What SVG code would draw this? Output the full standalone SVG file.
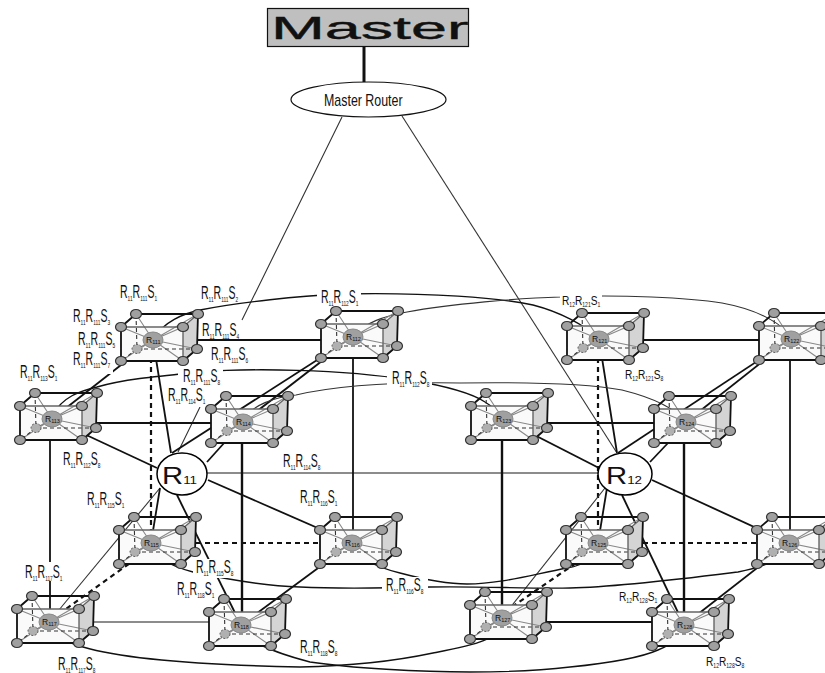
<svg xmlns="http://www.w3.org/2000/svg" width="825" height="673" viewBox="0 0 825 673">
<style>
text{font-family:"Liberation Sans",Arial,sans-serif;fill:#111}
.l{font-size:17.500px}.ls{font-size:13px}
.u{font-size:8px}.us{font-size:6.500px}
.bg{fill:#fff}
#conn path,#conn line{fill:none;stroke:#111;stroke-width:1.800}
#conn .k{stroke-width:2.400}
#conn .th{stroke:#333;stroke-width:1.100}
#conn .gr{stroke:#666;stroke-width:1}
#conn .md{stroke:#666;stroke-width:1.500}
#conn .d{stroke-dasharray:5 4;stroke-width:2.200}
#conn .a{stroke-width:1.400}
.e{fill:none;stroke:#111;stroke-width:1.800}
.eg{fill:none;stroke:#666;stroke-width:1.400}
.r{stroke:#888;stroke-width:1.100;fill:none}
.ds{fill:none;stroke:#333;stroke-width:1.100;stroke-dasharray:4 3}
.c{fill:#a0a0a0;stroke:#333;stroke-width:1.200}
.cd{fill:#b0b0b0;stroke:#555;stroke-width:1;stroke-dasharray:2 1.500}
.ctr{fill:#a0a0a0;stroke:#888;stroke-width:1}
.n{font-size:8.500px}.ns{font-size:5.500px}
</style>
<defs>
<g id="cube">
<path d="M-32,-13L30,-13L30,21L-32,21Z" fill="#fafafa"/>
<path d="M30,-13L45,-26L44,9L30,21Z" fill="#d4d4d4"/>
<path class="r" d="M0,0L-17,-26M0,0L45,-26M0,0L-32,-13M0,0L30,-13M0,0L-32,21M0,0L30,21M0,0L44,9M0,0L-16,9"/>
<path class="ds" d="M-17,-26L-16,9M-16,9L44,9M-16,9L-32,21"/>
<path class="eg" d="M-32,-13L30,-13M30,-13L30,21M30,-13L45,-26"/>
<path class="e" d="M-17,-26L45,-26L44,9L30,21L-32,21L-32,-13Z"/>
<ellipse class="cd" cx="-16" cy="9" rx="5" ry="4.500"/>
<ellipse class="c" cx="-17" cy="-26" rx="5.500" ry="4.500"/>
<ellipse class="c" cx="45" cy="-26" rx="5.500" ry="4.500"/>
<ellipse class="c" cx="-32" cy="-13" rx="5.500" ry="4.500"/>
<ellipse class="c" cx="30" cy="-13" rx="5.500" ry="4.500"/>
<ellipse class="c" cx="-32" cy="21" rx="5.500" ry="4.500"/>
<ellipse class="c" cx="30" cy="21" rx="5.500" ry="4.500"/>
<ellipse class="c" cx="44" cy="9" rx="5.500" ry="4.500"/>
<ellipse class="ctr" cx="0" cy="0" rx="10" ry="8"/>
</g>
</defs>

<g id="conn">
<line class="k" x1="364" y1="46" x2="364" y2="82" style="stroke-width:3"/>
<path class="th" d="M342,117L242,320M200,407L178,452"/>
<path class="th" d="M402,116L617,453"/>
<line x1="171" y1="453" x2="153" y2="340"/>
<line x1="172" y1="453" x2="353" y2="337"/>
<line x1="207" y1="462" x2="243" y2="422"/>
<line x1="243" y1="422" x2="353" y2="337"/>
<line x1="52" y1="419" x2="153" y2="340"/>
<line x1="157" y1="468" x2="52" y2="419"/>
<line x1="153" y1="340" x2="353" y2="340"/>
<line x1="52" y1="423" x2="243" y2="423"/>
<line class="d" x1="151" y1="543" x2="352" y2="543"/>
<line class="md" x1="49" y1="622" x2="241" y2="622"/>
<line class="md" x1="182" y1="473" x2="625" y2="473"/>
<line x1="50" y1="419" x2="50" y2="622"/>
<line class="d" x1="151" y1="340" x2="151" y2="543"/>
<line class="k" x1="242" y1="422" x2="242" y2="625"/>
<line x1="353" y1="340" x2="353" y2="543"/>
<line class="d" x1="151" y1="548" x2="52" y2="619"/>
<line class="th" x1="160" y1="488" x2="49" y2="622"/>
<line x1="160" y1="488" x2="151" y2="543"/>
<line x1="177" y1="495" x2="241" y2="625"/>
<line x1="208" y1="480" x2="352" y2="543"/>
<line x1="241" y1="625" x2="352" y2="543"/>
<line x1="617" y1="453" x2="599" y2="339"/>
<line x1="618" y1="453" x2="791" y2="339"/>
<line x1="650" y1="462" x2="686" y2="424"/>
<line x1="686" y1="422" x2="791" y2="339"/>
<line x1="503" y1="419" x2="599" y2="468"/>
<line x1="599" y1="340" x2="791" y2="340"/>
<line x1="503" y1="423" x2="686" y2="423"/>
<line class="d" x1="598" y1="543" x2="789" y2="543"/>
<line x1="502" y1="622" x2="684" y2="622"/>
<line class="d" x1="598" y1="340" x2="598" y2="543"/>
<line class="k" x1="684" y1="422" x2="684" y2="625"/>
<line x1="790" y1="339" x2="790" y2="543"/>
<line class="k" x1="502" y1="419" x2="502" y2="618"/>
<line class="d" x1="598" y1="548" x2="503" y2="613"/>
<line class="th" x1="605" y1="488" x2="502" y2="618"/>
<line x1="607" y1="488" x2="598" y2="543"/>
<line x1="622" y1="495" x2="684" y2="625"/>
<line x1="652" y1="480" x2="789" y2="543"/>
<line x1="684" y1="625" x2="789" y2="543"/>
<path class="a" d="M153,340C162,322 185,313 200,310C240,302 300,296 340,294C430,292 500,298 533,305C560,312 585,325 599,339"/>
<path class="th" d="M353,337C365,322 385,316 407,312C450,304 520,298 560,297C620,294 690,298 722,303C760,310 785,325 791,339"/>
<path class="a" d="M53,415C62,397 80,391 97,387C125,379 160,376 200,372C250,368 340,369 410,380C440,385 470,392 485,402C495,408 500,415 503,419"/>
<path class="th" d="M243,420C252,405 275,397 296,395C340,385 400,382 460,383C530,382 590,384 622,390C650,397 675,408 686,422"/>
<path class="a" d="M352,543C352,555 375,567 400,573C430,581 450,584 467,584C500,584 530,575 567,568C580,566 595,560 598,543"/>
<path class="a" d="M151,543C150,555 170,566 193,572C230,580 270,586 300,587C340,589 390,588 430,587C480,586 530,589 570,588C620,587 690,578 738,572C760,568 785,560 789,543"/>
<path class="a" d="M49,622C50,635 65,642 83,647C120,658 200,665 300,667C350,666 400,660 433,653C470,646 505,640 502,618"/>
<path class="a" d="M241,625C242,640 275,653 310,662C350,668 420,672 470,672C510,672 545,670 570,667C610,663 640,658 658,650C675,643 684,635 684,625"/>
</g>

<g id="labels">
<g id="l1"><rect class="bg" x="119" y="284" width="40" height="17"/><text class="l" transform="matrix(.6 0 0 1 120 298)">R<tspan class="u" dy="3">11</tspan><tspan dy="-3">R</tspan><tspan class="u" dy="3">111</tspan><tspan dy="-3">S</tspan><tspan class="u" dy="3">1</tspan></text></g>
<g id="l2"><rect class="bg" x="200" y="285" width="40" height="17"/><text class="l" transform="matrix(.6 0 0 1 201 299)">R<tspan class="u" dy="3">11</tspan><tspan dy="-3">R</tspan><tspan class="u" dy="3">111</tspan><tspan dy="-3">S</tspan><tspan class="u" dy="3">2</tspan></text></g>
<g id="l3"><rect class="bg" x="72" y="308" width="40" height="17"/><text class="l" transform="matrix(.6 0 0 1 73 322)">R<tspan class="u" dy="3">11</tspan><tspan dy="-3">R</tspan><tspan class="u" dy="3">111</tspan><tspan dy="-3">S</tspan><tspan class="u" dy="3">3</tspan></text></g>
<g id="l5"><rect class="bg" x="77" y="331" width="40" height="17"/><text class="l" transform="matrix(.6 0 0 1 78 345)">R<tspan class="u" dy="3">11</tspan><tspan dy="-3">R</tspan><tspan class="u" dy="3">111</tspan><tspan dy="-3">S</tspan><tspan class="u" dy="3">5</tspan></text></g>
<g id="l7"><rect class="bg" x="72" y="351" width="41" height="23"/><text class="l" transform="matrix(.6 0 0 1 73 365)">R<tspan class="u" dy="3">11</tspan><tspan dy="-3">R</tspan><tspan class="u" dy="3">111</tspan><tspan dy="-3">S</tspan><tspan class="u" dy="3">7</tspan></text></g>
<g id="l4"><rect class="bg" x="201" y="322" width="41" height="16"/><text class="l" transform="matrix(.6 0 0 1 202 336)">R<tspan class="u" dy="3">11</tspan><tspan dy="-3">R</tspan><tspan class="u" dy="3">111</tspan><tspan dy="-3">S</tspan><tspan class="u" dy="3">4</tspan></text></g>
<g id="l6"><rect class="bg" x="210" y="346" width="41" height="17"/><text class="l" transform="matrix(.6 0 0 1 211 360)">R<tspan class="u" dy="3">11</tspan><tspan dy="-3">R</tspan><tspan class="u" dy="3">111</tspan><tspan dy="-3">S</tspan><tspan class="u" dy="3">6</tspan></text></g>
<g id="l8"><rect class="bg" x="19" y="364" width="40" height="17"/><text class="l" transform="matrix(.6 0 0 1 20 378)">R<tspan class="u" dy="3">11</tspan><tspan dy="-3">R</tspan><tspan class="u" dy="3">113</tspan><tspan dy="-3">S</tspan><tspan class="u" dy="3">1</tspan></text></g>
<g id="l9"><rect class="bg" x="178" y="368" width="45" height="17"/><text class="l" transform="matrix(.6 0 0 1 183 382)">R<tspan class="u" dy="3">11</tspan><tspan dy="-3">R</tspan><tspan class="u" dy="3">111</tspan><tspan dy="-3">S</tspan><tspan class="u" dy="3">8</tspan></text></g>
<g id="l10"><rect class="bg" x="167" y="387" width="42" height="20"/><text class="l" transform="matrix(.6 0 0 1 168 401)">R<tspan class="u" dy="3">11</tspan><tspan dy="-3">R</tspan><tspan class="u" dy="3">114</tspan><tspan dy="-3">S</tspan><tspan class="u" dy="3">1</tspan></text></g>
<g id="l11"><rect class="bg" x="62" y="451" width="41" height="17"/><text class="l" transform="matrix(.6 0 0 1 63 465)">R<tspan class="u" dy="3">11</tspan><tspan dy="-3">R</tspan><tspan class="u" dy="3">112</tspan><tspan dy="-3">S</tspan><tspan class="u" dy="3">8</tspan></text></g>
<g id="l12"><rect class="bg" x="282" y="453" width="40" height="17"/><text class="l" transform="matrix(.6 0 0 1 283 467)">R<tspan class="u" dy="3">11</tspan><tspan dy="-3">R</tspan><tspan class="u" dy="3">114</tspan><tspan dy="-3">S</tspan><tspan class="u" dy="3">8</tspan></text></g>
<g id="l13"><rect class="bg" x="86" y="491" width="40" height="17"/><text class="l" transform="matrix(.6 0 0 1 87 505)">R<tspan class="u" dy="3">11</tspan><tspan dy="-3">R</tspan><tspan class="u" dy="3">115</tspan><tspan dy="-3">S</tspan><tspan class="u" dy="3">1</tspan></text></g>
<g id="l14"><rect class="bg" x="24" y="562" width="40" height="19"/><text class="l" transform="matrix(.6 0 0 1 25 578)">R<tspan class="u" dy="3">11</tspan><tspan dy="-3">R</tspan><tspan class="u" dy="3">117</tspan><tspan dy="-3">S</tspan><tspan class="u" dy="3">1</tspan></text></g>
<g id="l15"><rect class="bg" x="193" y="559" width="38" height="19"/><text class="l" transform="matrix(.6 0 0 1 196 573)">R<tspan class="u" dy="3">11</tspan><tspan dy="-3">R</tspan><tspan class="u" dy="3">115</tspan><tspan dy="-3">S</tspan><tspan class="u" dy="3">8</tspan></text></g>
<g id="l16"><rect class="bg" x="176" y="582" width="40" height="17"/><text class="l" transform="matrix(.6 0 0 1 177 595)">R<tspan class="u" dy="3">11</tspan><tspan dy="-3">R</tspan><tspan class="u" dy="3">118</tspan><tspan dy="-3">S</tspan><tspan class="u" dy="3">1</tspan></text></g>
<g id="l17"><rect class="bg" x="57" y="656" width="40" height="17"/><text class="l" transform="matrix(.6 0 0 1 58 670)">R<tspan class="u" dy="3">11</tspan><tspan dy="-3">R</tspan><tspan class="u" dy="3">117</tspan><tspan dy="-3">S</tspan><tspan class="u" dy="3">8</tspan></text></g>
<g id="l18"><rect class="bg" x="317" y="289" width="44" height="17"/><text class="l" transform="matrix(.6 0 0 1 321 303)">R<tspan class="u" dy="3">11</tspan><tspan dy="-3">R</tspan><tspan class="u" dy="3">112</tspan><tspan dy="-3">S</tspan><tspan class="u" dy="3">1</tspan></text></g>
<g id="l19"><rect class="bg" x="387" y="370" width="45" height="17"/><text class="l" transform="matrix(.6 0 0 1 392 384)">R<tspan class="u" dy="3">11</tspan><tspan dy="-3">R</tspan><tspan class="u" dy="3">112</tspan><tspan dy="-3">S</tspan><tspan class="u" dy="3">8</tspan></text></g>
<g id="l20"><rect class="bg" x="299" y="489" width="40" height="17"/><text class="l" transform="matrix(.6 0 0 1 300 503)">R<tspan class="u" dy="3">11</tspan><tspan dy="-3">R</tspan><tspan class="u" dy="3">116</tspan><tspan dy="-3">S</tspan><tspan class="u" dy="3">1</tspan></text></g>
<g id="l21"><rect class="bg" x="382" y="577" width="46" height="17"/><text class="l" transform="matrix(.6 0 0 1 386 591)">R<tspan class="u" dy="3">11</tspan><tspan dy="-3">R</tspan><tspan class="u" dy="3">116</tspan><tspan dy="-3">S</tspan><tspan class="u" dy="3">8</tspan></text></g>
<g id="l22"><rect class="bg" x="299" y="639" width="40" height="18"/><text class="l" transform="matrix(.6 0 0 1 300 653)">R<tspan class="u" dy="3">11</tspan><tspan dy="-3">R</tspan><tspan class="u" dy="3">118</tspan><tspan dy="-3">S</tspan><tspan class="u" dy="3">8</tspan></text></g>
<g id="l23"><rect class="bg" x="560" y="292" width="42" height="16"/><text class="ls" transform="matrix(.78 0 0 1 562 305)">R<tspan class="us" dy="2">12</tspan><tspan dy="-2">R</tspan><tspan class="us" dy="2">121</tspan><tspan dy="-2">S</tspan><tspan class="us" dy="2">1</tspan></text></g>
<g id="l24"><rect class="bg" x="624" y="368" width="40" height="14"/><text class="ls" transform="matrix(.78 0 0 1 625 379)">R<tspan class="us" dy="2">12</tspan><tspan dy="-2">R</tspan><tspan class="us" dy="2">121</tspan><tspan dy="-2">S</tspan><tspan class="us" dy="2">8</tspan></text></g>
<g id="l25"><rect class="bg" x="618" y="590" width="40" height="14"/><text class="ls" transform="matrix(.78 0 0 1 619 601)">R<tspan class="us" dy="2">12</tspan><tspan dy="-2">R</tspan><tspan class="us" dy="2">128</tspan><tspan dy="-2">S</tspan><tspan class="us" dy="2">1</tspan></text></g>
<g id="l26"><rect class="bg" x="705" y="655" width="40" height="14"/><text class="ls" transform="matrix(.78 0 0 1 706 666)">R<tspan class="us" dy="2">12</tspan><tspan dy="-2">R</tspan><tspan class="us" dy="2">128</tspan><tspan dy="-2">S</tspan><tspan class="us" dy="2">8</tspan></text></g>
</g>

<g id="R111"><use href="#cube" x="153" y="340"/><text class="n" x="146" y="343">R<tspan class="ns" dy="1">111</tspan></text></g>
<g id="R112"><use href="#cube" x="353" y="337"/><text class="n" x="346" y="340">R<tspan class="ns" dy="1">112</tspan></text></g>
<g id="R113"><use href="#cube" x="52" y="419"/><text class="n" x="45" y="422">R<tspan class="ns" dy="1">113</tspan></text></g>
<g id="R114"><use href="#cube" x="243" y="422"/><text class="n" x="236" y="425">R<tspan class="ns" dy="1">114</tspan></text></g>
<g id="R115"><use href="#cube" x="151" y="543"/><text class="n" x="144" y="546">R<tspan class="ns" dy="1">115</tspan></text></g>
<g id="R116"><use href="#cube" x="352" y="543"/><text class="n" x="345" y="546">R<tspan class="ns" dy="1">116</tspan></text></g>
<g id="R117"><use href="#cube" x="49" y="622"/><text class="n" x="42" y="625">R<tspan class="ns" dy="1">117</tspan></text></g>
<g id="R118"><use href="#cube" x="241" y="625"/><text class="n" x="234" y="628">R<tspan class="ns" dy="1">118</tspan></text></g>
<g id="R121"><use href="#cube" x="599" y="339"/><text class="n" x="592" y="342">R<tspan class="ns" dy="1">121</tspan></text></g>
<g id="R122"><use href="#cube" x="791" y="339"/><text class="n" x="784" y="342">R<tspan class="ns" dy="1">122</tspan></text></g>
<g id="R123"><use href="#cube" x="503" y="419"/><text class="n" x="496" y="422">R<tspan class="ns" dy="1">123</tspan></text></g>
<g id="R124"><use href="#cube" x="686" y="422"/><text class="n" x="679" y="425">R<tspan class="ns" dy="1">124</tspan></text></g>
<g id="R125"><use href="#cube" x="598" y="543"/><text class="n" x="591" y="546">R<tspan class="ns" dy="1">125</tspan></text></g>
<g id="R126"><use href="#cube" x="789" y="543"/><text class="n" x="782" y="546">R<tspan class="ns" dy="1">126</tspan></text></g>
<g id="R127"><use href="#cube" x="502" y="618"/><text class="n" x="495" y="621">R<tspan class="ns" dy="1">127</tspan></text></g>
<g id="R128"><use href="#cube" x="684" y="625"/><text class="n" x="677" y="628">R<tspan class="ns" dy="1">128</tspan></text></g>

<g id="R11"><ellipse cx="182" cy="474" rx="25" ry="21" fill="#fff" stroke="#000" stroke-width="1.500"/><text transform="matrix(1.22 0 0 1 162 484)" style="font-size:24px">R<tspan style="font-size:11px">11</tspan></text></g>
<g id="R12"><ellipse cx="625" cy="474" rx="27" ry="21" fill="#fff" stroke="#000" stroke-width="1.500"/><text transform="matrix(1.22 0 0 1 606 484)" style="font-size:24px">R<tspan style="font-size:11px">12</tspan></text></g>

<g id="master"><rect x="267.500" y="8.500" width="201" height="38" fill="#bfbfbf" stroke="#111" stroke-width="1.200"/><text transform="matrix(2.02 0 0 1 271 39)" style="font-size:32px;stroke:#111;stroke-width:.4">Master</text></g>
<g id="router"><ellipse cx="368.500" cy="99.500" rx="77.500" ry="17.500" fill="#fff" stroke="#111" stroke-width="1.200"/><text transform="matrix(.73 0 0 1 324 106)" style="font-size:17px">Master Router</text></g>
</svg>
